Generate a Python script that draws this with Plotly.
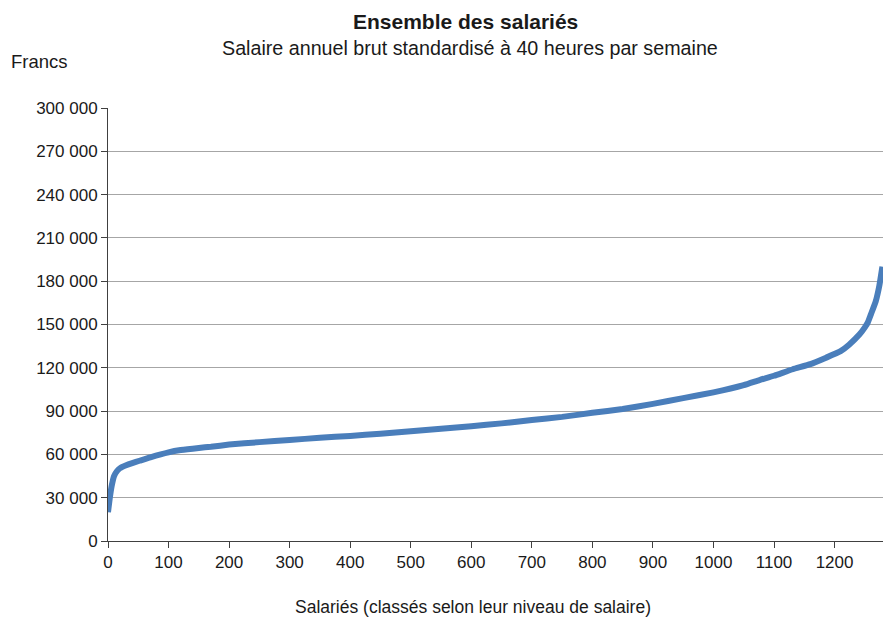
import plotly.graph_objects as go

# Rank of employee (sorted by salary) and annual salary
ranks = [0, 3, 6, 10, 15, 20, 30, 40, 52, 70, 100, 120, 150, 170, 200, 250, 300, 350,
         400, 450, 500, 550, 600, 650, 700, 750, 800, 850, 900, 950, 1000, 1050, 1076,
         1100, 1131, 1160, 1186, 1210, 1224, 1241, 1250, 1255, 1260, 1268, 1274, 1279]
salaries = [20000, 30000, 38000, 45000, 48500, 50500, 52500, 54000, 55600, 58000, 61400,
            63000, 64500, 65300, 66800, 68500, 70000, 71500, 72800, 74300, 76000, 77800,
            79500, 81500, 83800, 86000, 88800, 91500, 95000, 99000, 103000, 108000, 111500,
            114500, 119000, 122500, 127000, 131500, 136000, 143000, 148000, 151500, 157000,
            166000, 177000, 190000]

y_tickvals = [0, 30000, 60000, 90000, 120000, 150000, 180000, 210000, 240000, 270000, 300000]
y_ticktext = ["0", "30 000", "60 000", "90 000", "120 000", "150 000", "180 000",
              "210 000", "240 000", "270 000", "300 000"]
x_tickvals = [0, 100, 200, 300, 400, 500, 600, 700, 800, 900, 1000, 1100, 1200]

FONT = "Liberation Sans, Arial, sans-serif"
W, H = 883, 621
ML, MR, MT, MB = 108, 0, 108, 80
PW, PH = W - ML - MR, H - MT - MB


def px_x(x):
    return (x - ML) / PW


def px_y(y):
    return (H - MB - y) / PH


fig = go.Figure()
fig.add_trace(go.Scatter(x=ranks, y=salaries, mode="lines",
                         line=dict(color="#4a7ebb", width=6, shape="spline", smoothing=0.4),
                         showlegend=False, hoverinfo="skip", cliponaxis=True))

fig.update_layout(
    width=W, height=H,
    margin=dict(l=ML, r=MR, t=MT, b=MB, autoexpand=False),
    paper_bgcolor="white", plot_bgcolor="white",
    font=dict(family=FONT, size=17, color="#1a1a1a"),
    xaxis=dict(range=[0, 1280], tickvals=x_tickvals, ticks="outside", ticklen=6,
               tickcolor="#404040", showline=True, linecolor="#404040", linewidth=1,
               showgrid=False, zeroline=False, automargin=False,
               tickfont=dict(size=17)),
    yaxis=dict(range=[0, 300000], tickvals=y_tickvals, ticktext=y_ticktext,
               ticks="outside", ticklen=6, tickcolor="#404040",
               showline=True, linecolor="#404040", linewidth=1, automargin=False,
               showgrid=True, gridcolor="#a6a6a6", gridwidth=1, zeroline=False,
               tickfont=dict(size=17)),
    annotations=[
        dict(text="<b>Ensemble des salariés</b>", x=px_x(465), y=px_y(22),
             xref="paper", yref="paper", xanchor="center", yanchor="middle",
             showarrow=False, font=dict(size=21)),
        dict(text="Salaire annuel brut standardisé à 40 heures par semaine",
             x=px_x(470), y=px_y(48), xref="paper", yref="paper",
             xanchor="center", yanchor="middle", showarrow=False, font=dict(size=19.7)),
        dict(text="Francs", x=px_x(9), y=px_y(62), xref="paper", yref="paper",
             xanchor="left", yanchor="middle", showarrow=False, font=dict(size=18.5)),
        dict(text="Salariés (classés selon leur niveau de salaire)", x=px_x(473),
             y=px_y(607), xref="paper", yref="paper", xanchor="center",
             yanchor="middle", showarrow=False, font=dict(size=17.5)),
    ],
)

fig.write_html(
    "out.html",
    config={"displayModeBar": False},
    post_script="document.body.style.margin='0';document.body.style.overflow='hidden';",
)
